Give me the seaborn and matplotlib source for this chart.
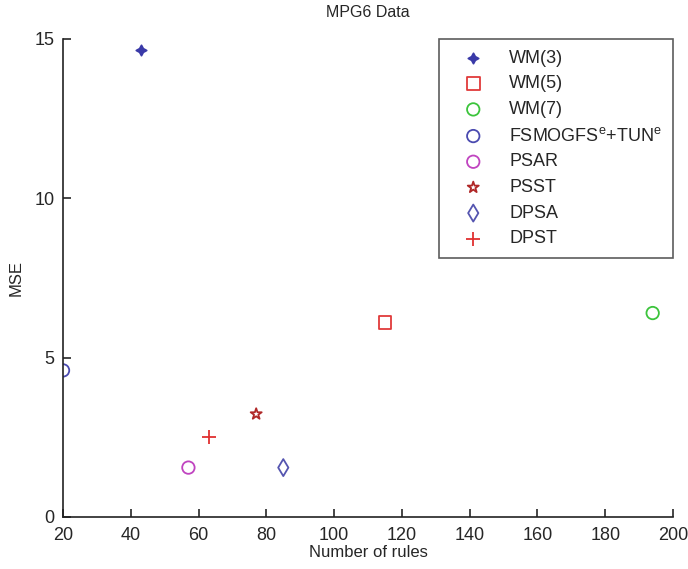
import matplotlib
matplotlib.use("Agg")
import matplotlib.pyplot as plt
import seaborn as sns

# values
methods = ["WM(3)", "WM(5)", "WM(7)", r"FSMOGFS$^{\mathrm{e}}$+TUN$^{\mathrm{e}}$",
           "PSAR", "PSST", "DPSA", "DPST"]
num_rules = [43, 115, 194, 20, 57, 77, 85, 63]
mse = [14.65, 6.1, 6.4, 4.6, 1.55, 3.23, 1.55, 2.5]

colors = ["#3a3aa8", "#e03a3a", "#3cc43c", "#4a4ab0", "#c044c0", "#b02828", "#5555b0", "#e03030"]
markers = [(4, 1, 0), "s", "o", "o", "o", "*", "d", "+"]
sizes = [55, 85, 80, 80, 80, 70, 75, 110]

sns.set_style("ticks")
plt.rcParams["font.family"] = ["Liberation Sans", "DejaVu Sans"]
plt.rcParams["mathtext.fontset"] = "custom"
plt.rcParams["mathtext.rm"] = "Liberation Sans"
plt.rcParams["mathtext.it"] = "Liberation Sans:italic"

fig = plt.figure(figsize=(6.88, 5.69), dpi=100)
ax = fig.add_axes([0.0916, 0.0914, 0.8866, 0.8401])

for name, xv, yv, c, m, s in zip(methods, num_rules, mse, colors, markers, sizes):
    if m in ["+", (4, 1, 0)]:
        sns.scatterplot(x=[xv], y=[yv], ax=ax, marker=m, color=c, s=s,
                        linewidth=1.3, edgecolor=c, label=name)
    else:
        sns.scatterplot(x=[xv], y=[yv], ax=ax, marker=m, s=s, facecolor="none",
                        edgecolor=c, linewidth=1.3, label=name)

ax.set_xlim(20, 200)
ax.set_ylim(0, 15)
ax.set_xticks(range(20, 201, 20))
ax.set_yticks([0, 5, 10, 15])
ax.tick_params(direction="in", length=6, width=1.2, labelsize=13)
ax.tick_params(axis="x", pad=7)
ax.tick_params(axis="y", pad=6)
sns.despine(ax=ax)
for sp in ["left", "bottom"]:
    ax.spines[sp].set_linewidth(1.2)
    ax.spines[sp].set_color("#222222")

ax.set_xlabel("Number of rules", fontsize=12, labelpad=1)
ax.set_ylabel("MSE", fontsize=12, labelpad=8)
ax.set_title("MPG6 Data", fontsize=11.5, pad=16)

leg = ax.legend(loc="upper right", borderaxespad=0, fontsize=13, frameon=True,
                fancybox=False, edgecolor="#333333", labelspacing=0.48,
                handletextpad=0.7, borderpad=0.6, handlelength=2.6)
leg.get_frame().set_linewidth(1.2)

plt.savefig("out.png", dpi=100)
